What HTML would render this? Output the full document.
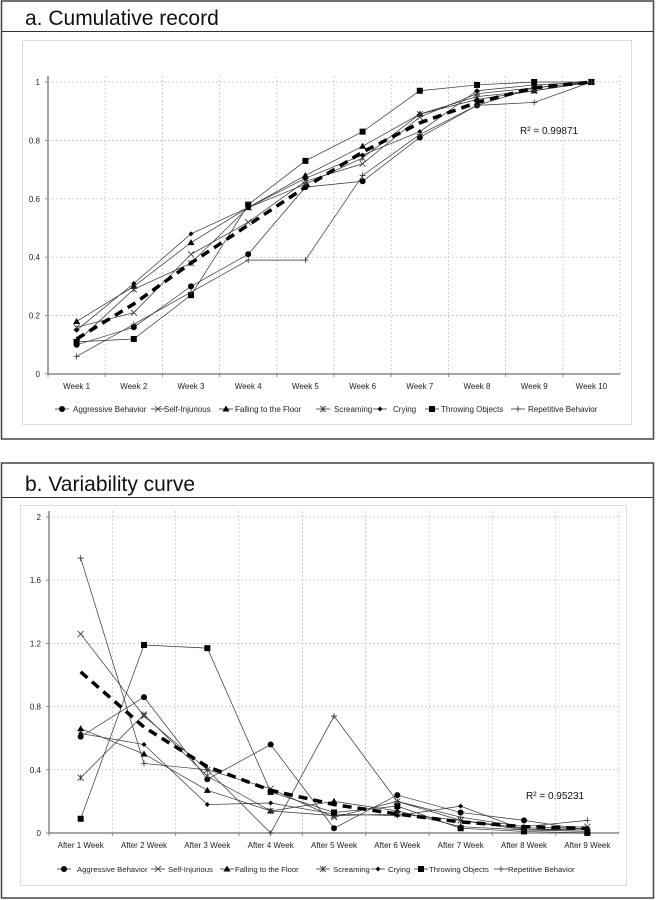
<!DOCTYPE html>
<html><head><meta charset="utf-8"><style>
html,body{margin:0;padding:0;background:#fff;}
svg{display:block;font-family:"Liberation Sans",sans-serif;}
</style></head><body>
<svg id="s" width="656" height="900" viewBox="0 0 656 900">
<g>
<rect x="1.5" y="1" width="652" height="438" fill="#fff" stroke="#444" stroke-width="1.5"/>
<line x1="1.5" y1="31.5" x2="653.5" y2="31.5" stroke="#333" stroke-width="1"/>
<text x="25" y="25" font-size="21" fill="#111">a. Cumulative record</text>
<rect x="22.5" y="40.5" width="609" height="384" fill="#fff" stroke="#ddd"/>
<g id="ca"></g>
</g>
<g>
<rect x="1.5" y="463" width="652" height="435" fill="#fff" stroke="#444" stroke-width="1.5"/>
<line x1="1.5" y1="497.5" x2="653.5" y2="497.5" stroke="#333" stroke-width="1"/>
<text x="25" y="491" font-size="21" fill="#111">b. Variability curve</text>
<rect x="20.5" y="505.5" width="606" height="380" fill="#fff" stroke="#ddd"/>
<g id="cb"></g>
</g>
</svg>
<script>
const seriesNames=["Aggressive Behavior","Self-Injurious","Falling to the Floor","Screaming","Crying","Throwing Objects","Repetitive Behavior"];
const markers=["circle","x","triangle","star","diamond","square","plus"];
const catsA=["Week 1","Week 2","Week 3","Week 4","Week 5","Week 6","Week 7","Week 8","Week 9","Week 10"];
const ticksA=[0,0.2,0.4,0.6,0.8,1];
const aggA=[0.10,0.16,0.30,0.41,0.64,0.66,0.81,0.92,0.98,1];
const selfA=[0.16,0.21,0.41,0.52,0.66,0.72,0.88,0.96,0.98,1];
const fallA=[0.18,0.30,0.45,0.57,0.68,0.78,0.89,0.94,0.97,1];
const screamA=[0.11,0.29,0.38,0.57,0.65,0.74,0.89,0.95,0.97,1];
const cryA=[0.15,0.31,0.48,0.57,0.67,0.75,0.83,0.97,0.99,1];
const throwA=[0.11,0.12,0.27,0.58,0.73,0.83,0.97,0.99,1,1];
const repA=[0.06,0.17,0.28,0.39,0.39,0.68,0.82,0.92,0.93,1];
const trendA=[0.12,0.24,0.38,0.51,0.64,0.76,0.86,0.93,0.98,1];
const r2A="R² = 0.99871";
const catsB=["After 1 Week","After 2 Week","After 3 Week","After 4 Week","After 5 Week","After 6 Week","After 7 Week","After 8 Week","After 9 Week"];
const ticksB=[0,0.4,0.8,1.2,1.6,2];
const aggB=[0.61,0.86,0.34,0.56,0.03,0.24,0.13,0.08,0.02];
const selfB=[1.26,0.74,0.40,0.28,0.10,0.20,0.08,0.03,0.04];
const fallB=[0.66,0.50,0.27,0.14,0.20,0.14,0.04,0.02,0.01];
const screamB=[0.35,0.75,0.36,0.14,0.11,0.12,0.08,0.02,0.02];
const cryB=[0.63,0.56,0.18,0.19,0.12,0.11,0.17,0.02,0.03];
const throwB=[0.09,1.19,1.17,0.26,0.13,0.17,0.03,0.01,0.0];
const repB=[1.74,0.44,0.40,0.0,0.74,0.20,0.10,0.04,0.08];
const trendB=[1.02,0.67,0.42,0.27,0.18,0.12,0.07,0.04,0.03];
const r2B="R² = 0.95231";

const NS="http://www.w3.org/2000/svg";
function mk(p,tag,at){const e=document.createElementNS(NS,tag);for(const k in at)e.setAttribute(k,at[k]);p.appendChild(e);return e;}
function marker(g,type,x,y){
  let e;
  if(type==="circle"){e=mk(g,"circle",{cx:x,cy:y,r:3,fill:"#000"});}
  else if(type==="square"){e=mk(g,"rect",{x:x-3,y:y-3,width:6,height:6,fill:"#000"});}
  else if(type==="triangle"){e=mk(g,"polygon",{points:`${x},${y-3.5} ${x+3.5},${y+2.5} ${x-3.5},${y+2.5}`,fill:"#000"});}
  else if(type==="diamond"){e=mk(g,"polygon",{points:`${x},${y-2.5} ${x+2.5},${y} ${x},${y+2.5} ${x-2.5},${y}`,fill:"#000"});}
  else if(type==="x"){e=mk(g,"path",{d:`M${x-3} ${y-3}L${x+3} ${y+3}M${x-3} ${y+3}L${x+3} ${y-3}`,stroke:"#333","stroke-width":0.8});}
  else if(type==="star"){e=mk(g,"path",{d:`M${x-3} ${y-3}L${x+3} ${y+3}M${x-3} ${y+3}L${x+3} ${y-3}M${x} ${y-3}L${x} ${y+3}`,stroke:"#333","stroke-width":0.8});}
  else {e=mk(g,"path",{d:`M${x-3} ${y}L${x+3} ${y}M${x} ${y-3}L${x} ${y+3}`,stroke:"#333","stroke-width":0.8});}
  return e;
}
function chart(root,o){
  const g=document.getElementById(root);
  const n=o.cats.length;
  const step=(o.right-o.left)/n;
  const xs=i=>o.left+step*(i+0.5);
  const ys=v=>o.y0-(v-o.ticks[0])/(o.ticks[o.ticks.length-1]-o.ticks[0])*(o.y0-o.yTop);
  for(let i=1;i<=n;i++){const l=mk(g,"line",{x1:o.left+step*i,x2:o.left+step*i,y1:o.yTop-6,y2:o.y0,stroke:"#bbb","stroke-dasharray":"2,2","stroke-width":0.7});
    
    }
  o.ticks.forEach(t=>{
    if(t!==o.ticks[0]){const l=mk(g,"line",{x1:o.left,x2:o.right,y1:ys(t),y2:ys(t),stroke:"#bbb","stroke-dasharray":"2,2","stroke-width":0.7});
      
      }
    const tx=mk(g,"text",{x:o.left-8,y:ys(t)+3,"font-size":8,"text-anchor":"end",fill:"#222"});tx.textContent=String(t);
    
    
    mk(g,"line",{x1:o.left-3,x2:o.left,y1:ys(t),y2:ys(t),stroke:"#888"});
  });
  const ya=mk(g,"line",{x1:o.left,x2:o.left,y1:o.yTop-6,y2:o.y0,stroke:"#888","stroke-width":1.5});
  
  
  const xa=mk(g,"line",{x1:o.left,x2:o.right,y1:o.y0,y2:o.y0,stroke:"#888","stroke-width":1.5});
  
  
  o.cats.forEach((c,i)=>{
    mk(g,"line",{x1:o.left+step*i,x2:o.left+step*i,y1:o.y0,y2:o.y0+3,stroke:"#888"});
    const t=mk(g,"text",{x:xs(i),y:o.y0+15,"font-size":8,"text-anchor":"middle",fill:"#222"});t.textContent=c;
    
    
  });
  o.series.forEach((s,k)=>{
    const sg=mk(g,"g",{});
    
    
    mk(sg,"polyline",{points:s.map((v,i)=>xs(i)+","+ys(v)).join(" "),fill:"none",stroke:"#333","stroke-width":0.7});
    s.forEach((v,i)=>{const m=marker(sg,markers[k],xs(i),ys(v));
      
      });
  });
  const tr=mk(g,"polyline",{points:o.trend.map((v,i)=>xs(i)+","+ys(v)).join(" "),fill:"none",stroke:"#000","stroke-width":3.5,"stroke-dasharray":"9,6"});
  
  
  const r=mk(g,"text",{x:o.r2x,y:o.r2y,"font-size":10,fill:"#111"});r.textContent=o.r2;
  
  
  seriesNames.forEach((nm,k)=>{
    const lx=o.legX+o.legStarts[k];
    const lg=mk(g,"g",{});
    
    
    mk(lg,"line",{x1:lx,x2:lx+14,y1:o.legY,y2:o.legY,stroke:"#333","stroke-width":0.8});
    marker(lg,markers[k],lx+7,o.legY);
    const t=mk(lg,"text",{x:lx+o.legOff[k],y:o.legY+3,"font-size":o.legFont,fill:"#222"});t.textContent=nm;
  });
}
chart("ca",{cats:catsA,ticks:ticksA,series:[aggA,selfA,fallA,screamA,cryA,throwA,repA],trend:trendA,left:48,right:620,y0:374,yTop:82,r2:r2A,r2x:520,r2y:134,legX:55,legY:409,legStarts:[0,96,164,261,318,370,456],legOff:[18,13,16,18,20,16,17],legFont:8});
chart("cb",{cats:catsB,ticks:ticksB,series:[aggB,selfB,fallB,screamB,cryB,throwB,repB],trend:trendB,left:49,right:619,y0:833,yTop:517,r2:r2B,r2x:526,r2y:799,legX:57,legY:869,legStarts:[0,94,163,259,314,357,437],legOff:[20,17,15,17,17,15,14],legFont:7.7});
</script>
</body></html>
